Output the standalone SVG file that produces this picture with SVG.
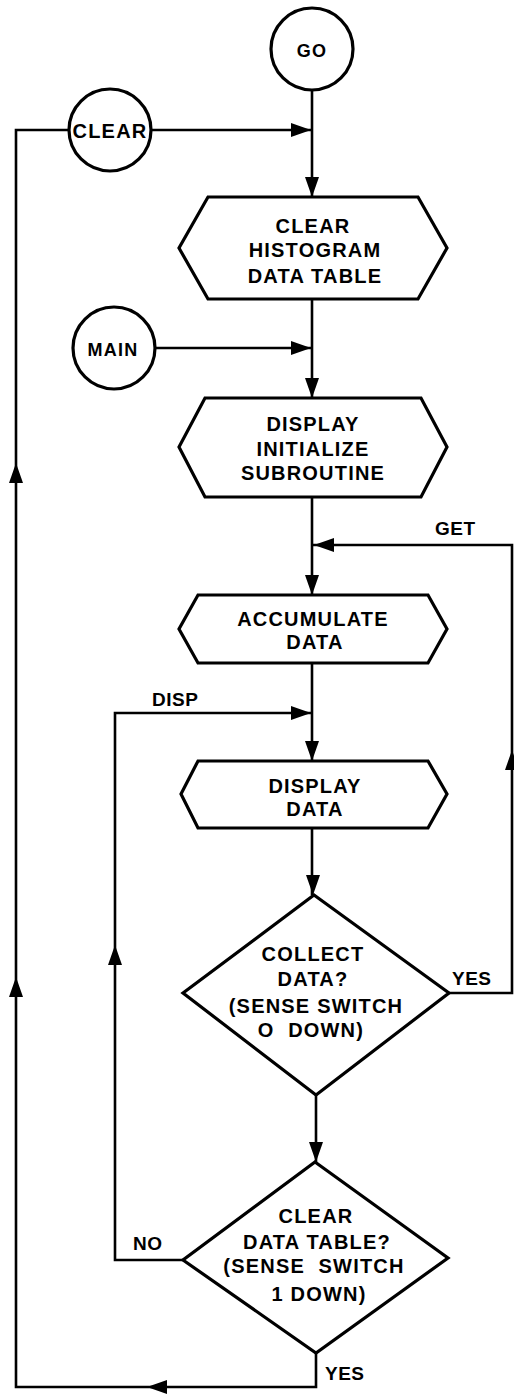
<svg xmlns="http://www.w3.org/2000/svg" xmlns:xlink="http://www.w3.org/1999/xlink" width="514" height="1396" viewBox="0 0 514 1396">
<style>
.shape{fill:none;stroke:#000;stroke-width:3.2;stroke-linejoin:miter}
.conn{fill:none;stroke:#000;stroke-width:2.6}
.ah{fill:#000}
text{font-family:"Liberation Sans",Arial,sans-serif;font-weight:bold;font-size:20px;fill:#000;letter-spacing:1.2px}
.c{text-anchor:middle}
.lbl{font-size:19px;letter-spacing:0.5px}
</style>
<defs>
<path id="ah" d="M0,0 L-20,-7 L-20,7 Z"/>
</defs>
<rect x="0" y="0" width="514" height="1396" fill="#fff"/>
<g id="connectors">
<path class="conn" d="M312,90 V197"/>
<path class="conn" d="M152,130 H312"/>
<path class="conn" d="M316,1353 V1387 H16 V130 H69"/>
<path class="conn" d="M155,348 H312"/>
<path class="conn" d="M312,299 V398"/>
<path class="conn" d="M312,497 V595"/>
<path class="conn" d="M449,993 H512 V545 H312"/>
<path class="conn" d="M312,663 V761"/>
<path class="conn" d="M183,1260 H115 V713 H312"/>
<path class="conn" d="M312,828 V895"/>
<path class="conn" d="M316,1095 V1162"/>
<use class="ah" xlink:href="#ah" transform="translate(311,130)"/>
<use class="ah" xlink:href="#ah" transform="translate(312,197) rotate(90)"/>
<use class="ah" xlink:href="#ah" transform="translate(311,348)"/>
<use class="ah" xlink:href="#ah" transform="translate(312,398) rotate(90)"/>
<use class="ah" xlink:href="#ah" transform="translate(16,463) rotate(-90)"/>
<use class="ah" xlink:href="#ah" transform="translate(314,545) rotate(180)"/>
<use class="ah" xlink:href="#ah" transform="translate(312,595) rotate(90)"/>
<use class="ah" xlink:href="#ah" transform="translate(311,713)"/>
<use class="ah" xlink:href="#ah" transform="translate(312,761) rotate(90)"/>
<use class="ah" xlink:href="#ah" transform="translate(512,750) rotate(-90)"/>
<use class="ah" xlink:href="#ah" transform="translate(313,895) rotate(90)"/>
<use class="ah" xlink:href="#ah" transform="translate(16,977) rotate(-90)"/>
<use class="ah" xlink:href="#ah" transform="translate(115,945) rotate(-90)"/>
<use class="ah" xlink:href="#ah" transform="translate(316,1162) rotate(90)"/>
<use class="ah" xlink:href="#ah" transform="translate(147,1387) rotate(180)"/>
<text class="lbl" x="435" y="535">GET</text>
<text class="lbl" x="152" y="706">DISP</text>
<text class="lbl" x="452" y="985">YES</text>
<text class="lbl" x="133" y="1250">NO</text>
<text class="lbl" x="325" y="1380">YES</text>
</g>
<g id="go">
<circle class="shape" cx="312" cy="49" r="41"/>
<text class="c" x="312" y="57" style="font-size:18px">GO</text>
</g>
<g id="clear">
<circle class="shape" cx="110" cy="130" r="41"/>
<text class="c" x="110" y="138">CLEAR</text>
</g>
<g id="main">
<circle class="shape" cx="114" cy="348" r="41"/>
<text class="c" x="113" y="356" style="font-size:18px">MAIN</text>
</g>
<g id="clear-histogram">
<polygon class="shape" points="208,197 418,197 447,248 418,299 208,299 179,248"/>
<text class="c" x="313" y="233">CLEAR</text>
<text class="c" x="315" y="257">HISTOGRAM</text>
<text class="c" x="315" y="283">DATA TABLE</text>
</g>
<g id="display-init">
<polygon class="shape" points="205,398 421,398 447,447 421,497 205,497 179,447"/>
<text class="c" x="313" y="431">DISPLAY</text>
<text class="c" x="313" y="456">INITIALIZE</text>
<text class="c" x="313" y="480">SUBROUTINE</text>
</g>
<g id="accumulate">
<polygon class="shape" points="198,595 428,595 447,629 428,663 198,663 179,629"/>
<text class="c" x="313" y="626">ACCUMULATE</text>
<text class="c" x="315" y="649">DATA</text>
</g>
<g id="display-data">
<polygon class="shape" points="198,761 428,761 447,794 428,828 198,828 181,794"/>
<text class="c" x="315" y="793">DISPLAY</text>
<text class="c" x="315" y="816">DATA</text>
</g>
<g id="collect">
<polygon class="shape" points="314,895 449,993 316,1095 183,993"/>
<text class="c" x="313" y="961">COLLECT</text>
<text class="c" x="313" y="986">DATA?</text>
<text class="c" x="316" y="1013">(SENSE SWITCH</text>
<text class="c" x="311" y="1037" xml:space="preserve">O  DOWN)</text>
</g>
<g id="clear-table">
<polygon class="shape" points="315,1162 448,1258 316,1353 183,1260"/>
<text class="c" x="316" y="1223">CLEAR</text>
<text class="c" x="317" y="1249">DATA TABLE?</text>
<text class="c" x="314" y="1273" xml:space="preserve">(SENSE  SWITCH</text>
<text class="c" x="319" y="1301">1 DOWN)</text>
</g>
</svg>
